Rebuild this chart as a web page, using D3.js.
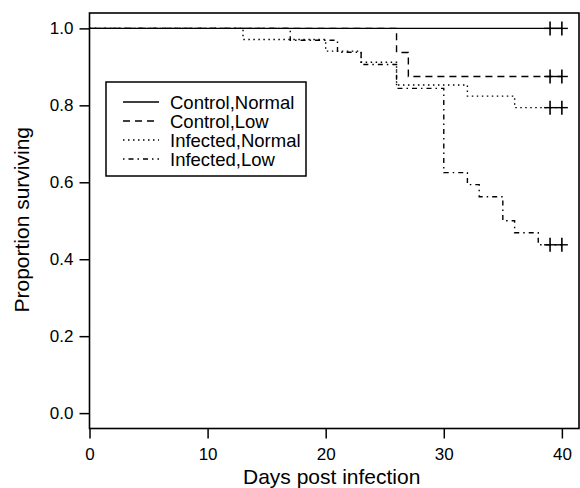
<!DOCTYPE html>
<html><head><meta charset="utf-8">
<script src="https://cdn.jsdelivr.net/npm/d3@7"></script>
<style>
html,body{margin:0;padding:0;background:#fff;}
svg text{font-family:"Liberation Sans",Arial,Helvetica,sans-serif;fill:#000;}
</style></head>
<body><svg id="c" width="580" height="488"></svg>
<script>
const xTicks = [0, 10, 20, 30, 40];
const yTicks = [0.0, 0.2, 0.4, 0.6, 0.8, 1.0];
const seriesNames = ["Control,Normal", "Control,Low", "Infected,Normal", "Infected,Low"];
const controlNormalTimes = [0];
const controlNormalSurv = [1];
const controlLowTimes = [0, 26, 27];
const controlLowSurv = [1, 0.9375, 0.875];
const infectedNormalTimes = [0, 13, 20, 23, 26, 32, 36];
const infectedNormalSurv = [1, 0.971, 0.941, 0.912, 0.853, 0.824, 0.794];
const infectedLowTimes = [0, 17, 21, 23, 26, 30, 32, 33, 35, 36, 38];
const infectedLowSurv = [1, 0.969, 0.938, 0.906, 0.844, 0.625, 0.594, 0.5625, 0.5, 0.469, 0.4375];
const censorTimes = [39, 40];
const endTime = 40;

const dashes = ["none", "7,5", "1.5,3.5", "1.5,4,5,4"];
const series = [
  {t: controlNormalTimes, s: controlNormalSurv},
  {t: controlLowTimes, s: controlLowSurv},
  {t: infectedNormalTimes, s: infectedNormalSurv},
  {t: infectedLowTimes, s: infectedLowSurv}
];

const svg = d3.select("#c");
const L = 89.5, R = 579, T = 13, B = 428.5;
const x = d3.scaleLinear().domain([0, 41.45]).range([L, R]);
const y = d3.scaleLinear().domain([-0.04, 1.04]).range([B, T]);

// box
svg.append("rect").attr("x", L).attr("y", T).attr("width", R - L).attr("height", B - T)
  .attr("fill", "none").attr("stroke", "#000").attr("stroke-width", 1.6);

// axes
const gx = svg.append("g").attr("transform", `translate(0,${B})`)
  .call(d3.axisBottom(x).tickValues(xTicks).tickSize(10).tickPadding(9).tickFormat(d3.format("d")));
const gy = svg.append("g").attr("transform", `translate(${L},0)`)
  .call(d3.axisLeft(y).tickValues(yTicks).tickSize(10).tickPadding(6).tickFormat(d3.format(".1f")));
[gx, gy].forEach(g => {
  g.select(".domain").remove();
  g.selectAll(".tick line").attr("stroke", "#000").attr("stroke-width", 1.5);
  g.selectAll(".tick text").attr("font-size", 17).attr("fill", "#000");
});

svg.append("text").attr("x", (x(0) + x(40)) / 2 + 6).attr("y", 484).attr("text-anchor", "middle")
  .attr("font-size", 21).text("Days post infection");
svg.append("text").attr("transform", `translate(29,${y(0.5) - 1}) rotate(-90)`).attr("text-anchor", "middle")
  .attr("font-size", 21).text("Proportion surviving");

// curves
const line = d3.line().x(d => x(d[0])).y(d => y(d[1])).curve(d3.curveStepAfter);
series.forEach((ser, i) => {
  const pts = ser.t.map((t, j) => [t, ser.s[j]]);
  pts.push([endTime, ser.s[ser.s.length - 1]]);
  svg.append("path").attr("d", line(pts)).attr("fill", "none").attr("stroke", "#000")
    .attr("stroke-width", 1.4).attr("stroke-dasharray", dashes[i]);
  const last = ser.s[ser.s.length - 1];
  censorTimes.forEach(ct => {
    const cx = x(ct), cy = y(last);
    svg.append("line").attr("x1", cx).attr("x2", cx).attr("y1", cy - 7).attr("y2", cy + 7)
      .attr("stroke", "#000").attr("stroke-width", 1.6);
    svg.append("line").attr("x1", cx - 6).attr("x2", cx + 6).attr("y1", cy).attr("y2", cy)
      .attr("stroke", "#000").attr("stroke-width", 1.4);
  });
});

// legend
const lg = svg.append("g");
lg.append("rect").attr("x", 106).attr("y", 82).attr("width", 200).attr("height", 94)
  .attr("fill", "#fff").attr("stroke", "#000").attr("stroke-width", 1.5);
seriesNames.forEach((n, i) => {
  const yy = 102 + i * 19;
  lg.append("line").attr("x1", 123).attr("x2", 159).attr("y1", yy).attr("y2", yy)
    .attr("stroke", "#000").attr("stroke-width", 1.4).attr("stroke-dasharray", dashes[i]);
  lg.append("text").attr("x", 170).attr("y", yy).attr("dy", "0.36em").attr("font-size", 18.5).text(n);
});
</script></body></html>
